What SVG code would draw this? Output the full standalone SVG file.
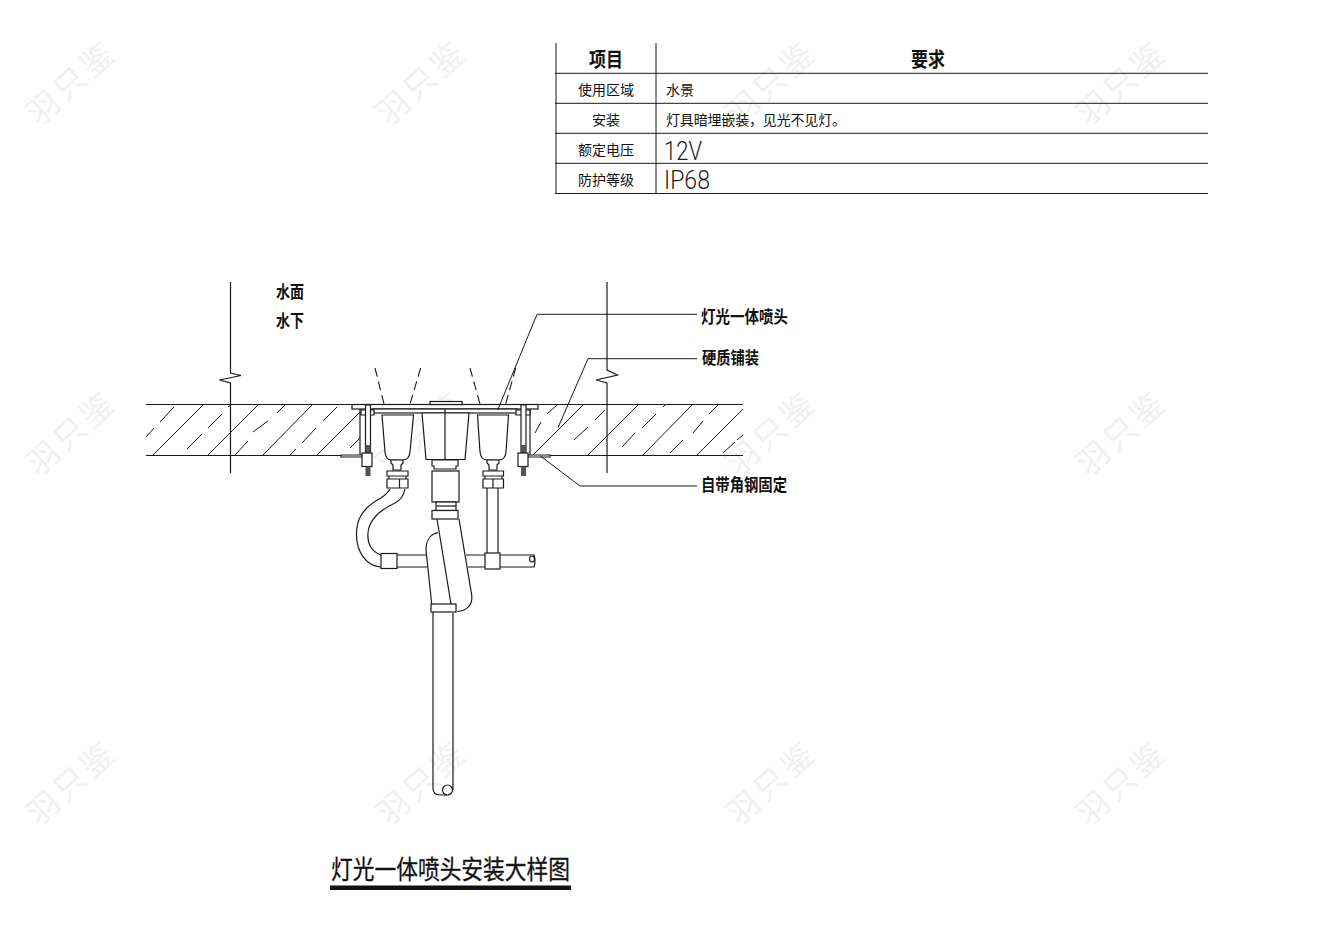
<svg xmlns="http://www.w3.org/2000/svg" xmlns:xlink="http://www.w3.org/1999/xlink" width="1330" height="930" viewBox="0 0 1330 930">
<style>
.l{fill:none;stroke:#1a1a1a;stroke-width:1.2}
.t{fill:none;stroke:#1a1a1a;stroke-width:1}
.w{fill:#fff;stroke:#1a1a1a;stroke-width:1.2}
.p{fill:none;stroke:#1a1a1a;stroke-width:1.2}
.d{fill:none;stroke:#1a1a1a;stroke-width:1.1;stroke-dasharray:9 5}
.k{fill:#555;stroke:none}
text{font-family:"Noto Sans CJK SC","Noto Sans",sans-serif;fill:#111}
.c{font-size:14px}
.b{font-size:17px;font-weight:700}
.n{font-family:Roboto,"Liberation Sans",sans-serif;font-weight:300;font-size:26px;fill:#222}
.wm{font-size:32px;fill:#f0f0f0;text-anchor:middle;letter-spacing:4px}
</style>
<defs>
<text id="wmk" class="wm" transform="rotate(-42)">羽只鉴</text>
</defs>
<g id="watermarks">
<use href="#wmk" transform="translate(79,91)"/>
<use href="#wmk" transform="translate(429,91)"/>
<use href="#wmk" transform="translate(779,91)"/>
<use href="#wmk" transform="translate(1129,91)"/>
<use href="#wmk" transform="translate(79,441)"/>
<use href="#wmk" transform="translate(429,441)"/>
<use href="#wmk" transform="translate(779,441)"/>
<use href="#wmk" transform="translate(1129,441)"/>
<use href="#wmk" transform="translate(79,791)"/>
<use href="#wmk" transform="translate(429,791)"/>
<use href="#wmk" transform="translate(779,791)"/>
<use href="#wmk" transform="translate(1129,791)"/>
</g>
<g id="table">
<path class="t" d="M556 43V194M656 43V194M555 73.3H1208M555 103.3H1208M555 133.3H1208M555 163.3H1208M555 193.5H1208"/>
<text x="589" y="67" font-size="20" font-weight="700" textLength="34" lengthAdjust="spacingAndGlyphs">项目</text>
<text x="911" y="67" font-size="20" font-weight="700" textLength="34" lengthAdjust="spacingAndGlyphs">要求</text>
<text class="c" x="578" y="95" textLength="56" lengthAdjust="spacing">使用区域</text>
<text class="c" x="592" y="125" textLength="28" lengthAdjust="spacing">安装</text>
<text class="c" x="578" y="155" textLength="56" lengthAdjust="spacing">额定电压</text>
<text class="c" x="578" y="185" textLength="56" lengthAdjust="spacing">防护等级</text>
<text class="c" x="666" y="95" textLength="28" lengthAdjust="spacing">水景</text>
<text class="c" x="666" y="125" textLength="180" lengthAdjust="spacing">灯具暗埋嵌装，见光不见灯。</text>
<text class="n" x="664" y="160" textLength="38" lengthAdjust="spacingAndGlyphs">12V</text>
<text class="n" x="664" y="189" textLength="46" lengthAdjust="spacingAndGlyphs">IP68</text>
</g>
<g id="slab">
<path class="l" d="M146 404.5H352M538 404.5H743M146 455.5H341M550 455.5H743"/>
<path class="t" d="M153 455L203 405M208 455L258 405M263 455L312 405M317 455L360 412M533 455L583 405M588 455L638 405M643 455L692 405M697 455L743 409"/>
<path class="t" d="M160 422L174 407M146 437L154 428M187 449L202 434M208 428L222 414M228 407L231 405M235 455L248 441M253 432L268 421M277 413L285 405M290 455L296 449M302 443L316 428M323 421L337 407M350 448L360 438M535 433L541 422M547 414L557 405M574 440L588 427M595 420L605 410M622 447L635 433M642 428L656 414M663 407L665 405M670 453L683 440M693 433L703 421M709 414L718 405M723 453L735 442M737 440L743 435"/>
</g>
<g id="break-lines">
<path class="l" d="M230.500 282V373L241 375.500L219.500 380L230.500 383V473"/>
<path class="l" d="M607 282V370L617.500 375L596 380L607 383V473"/>
</g>
<g id="nozzle">
<path class="d" d="M375 368L384 404M420.700 368L410 404M470 368L480 404M515.700 368L505.700 404"/>
<path class="l" d="M360 409V455.500M530 409V455.500"/>
<path class="w" d="M341 455H362V457H341ZM528 455H550V457H528Z"/>
<rect class="w" x="352" y="404.500" width="186" height="4.500"/>
<rect class="w" x="430" y="401.500" width="32" height="3"/>
<rect class="w" x="373" y="409" width="144" height="4"/>
<path class="w" d="M361 410H374V415H361ZM516 410H530V415H516Z"/>
<g id="bolt-left">
<path class="w" d="M365.500 405H370.500V453H365.500Z"/>
<rect class="k" x="365.500" y="445" width="5" height="8"/>
<rect class="w" x="362" y="453" width="10" height="13.500"/>
<rect class="k" x="365.500" y="466.500" width="5" height="9.500"/>
</g>
<g id="bolt-right">
<path class="w" d="M521 405H526V453H521Z"/>
<rect class="k" x="521" y="445" width="5" height="8"/>
<rect class="w" x="518" y="453" width="10" height="13.500"/>
<rect class="k" x="521" y="466.500" width="5" height="9.500"/>
</g>
<path class="w" d="M382 415H413.500L410 452Q409 460 403 460H391Q386 460 385 452Z"/>
<path class="w" d="M477.500 415H508.500L506 452Q505 460 499 460H487Q481 460 480 452Z"/>
<path class="w" d="M422 413H469L465 459.500H426Z"/>
<path class="l" d="M445 409V463"/>
<path class="w" d="M391 460H403V463L401 465V470H393V465L391 463Z"/>
<path class="w" d="M487 460H499V463L497 465V470H489V465L487 463Z"/>
<path class="w" d="M387 471H408V476H387ZM389 476H406V479H389ZM387 479H408V488H387Z"/>
<path class="l" d="M399.500 479V488"/>
<path class="w" d="M483 471H503.500V476H483ZM485 476H502V479H485ZM483 479H503.500V488H483Z"/>
<path class="l" d="M493 479V488"/>
<path class="w" d="M432 460H458V466H456V469H434V466H432Z"/>
</g>
<g id="piping">
<path class="p" d="M487 488V553M498 488V553"/>
<path class="p" d="M397 555H426M397 567H428M466 555H485M468 567H485M500 555H534Q536 561 534 567H500"/>
<ellipse class="l" cx="532" cy="559" rx="2.500" ry="3"/>
<path class="p" d="M390 489Q388 493 381 498C362 508 356 520 356.500 536C357 552 366 566 381 567M381 555C372 552 367 544 368 533C369 520 378 511 395 503Q403 499 405 489"/>
<rect class="w" x="381" y="553.500" width="16" height="15"/>
<rect class="w" x="485" y="553" width="15" height="16"/>
<path class="p" d="M438 532.700C430 534 426 541 426 550L431.700 604"/>
<path class="p" d="M437 519L451 604M459 519L471.700 595C473 606 466 611 457 611.500"/>
<rect class="w" x="432" y="471" width="27" height="31"/>
<rect class="w" x="436" y="502" width="20" height="8.500"/>
<path class="l" d="M436 506H456"/>
<rect class="w" x="432" y="510.500" width="26" height="8.500"/>
<path class="p" d="M433 612V788C433 792 435 795 440 795H447M453 613V790"/>
<rect class="w" x="431" y="604" width="25" height="8"/>
<circle class="p" cx="447.500" cy="790" r="5"/>
</g>
<g id="connectors">
<path class="t" d="M497.700 410L537 314.300H697"/>
<path class="t" d="M558 427.700L588 358.700H697"/>
<path class="t" d="M540 455.700L580 486H697"/>
</g>
<g id="label-water-surface"><text class="b" x="276" y="298" textLength="28" lengthAdjust="spacingAndGlyphs">水面</text></g>
<g id="label-underwater"><text class="b" x="276" y="327" textLength="28" lengthAdjust="spacingAndGlyphs">水下</text></g>
<g id="label-nozzle"><text class="b" x="701" y="323" textLength="87" lengthAdjust="spacingAndGlyphs">灯光一体喷头</text></g>
<g id="label-paving"><text class="b" x="702" y="364" textLength="57" lengthAdjust="spacingAndGlyphs">硬质铺装</text></g>
<g id="label-angle"><text class="b" x="701" y="491" textLength="86" lengthAdjust="spacingAndGlyphs">自带角钢固定</text></g>
<g id="title">
<text x="331" y="879" font-size="26" textLength="239" lengthAdjust="spacingAndGlyphs" stroke="#111" stroke-width=".3">灯光一体喷头安装大样图</text>
<rect x="330" y="885.500" width="241" height="4.500" fill="#111"/>
</g>
</svg>
